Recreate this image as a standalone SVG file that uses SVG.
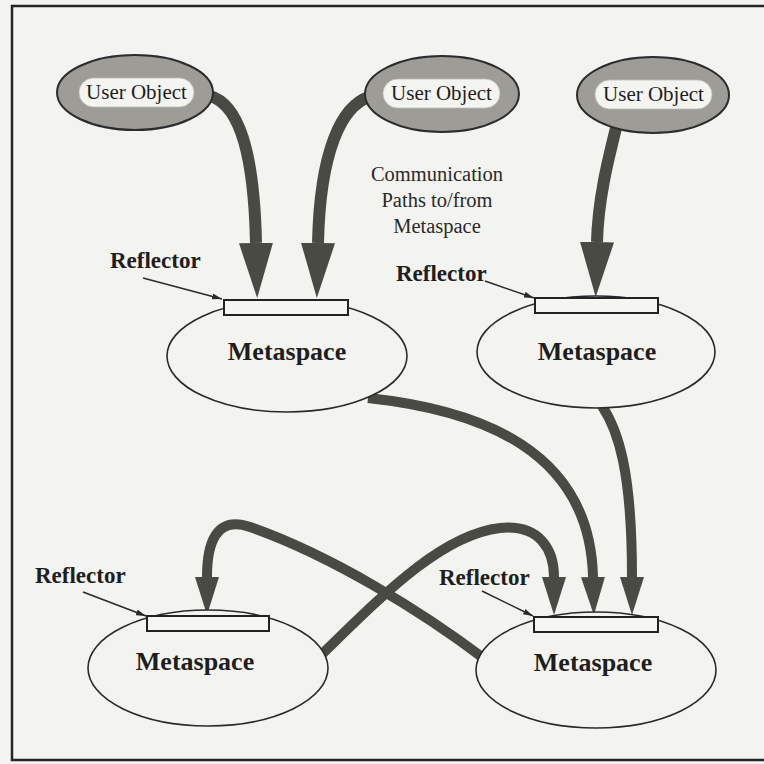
<svg xmlns="http://www.w3.org/2000/svg" width="764" height="764" viewBox="0 0 764 764">
  <defs>
    <style>
      .frame { fill: none; stroke: #252525; stroke-width: 2.5; }
      .uo-body { fill: #9d9c97; stroke: #2c2c2c; stroke-width: 2; }
      .uo-pill { fill: #f4f4f1; stroke: #bdbdb8; stroke-width: 0.8; }
      .uo-text { font-family: "Liberation Serif", "Times New Roman", serif; font-size: 21px; fill: #1e1e1e; text-anchor: middle; }
      .ms-body { fill: #f3f3ef; stroke: #2a2a2a; stroke-width: 1.6; }
      .ms-text { font-family: "Liberation Serif", "Times New Roman", serif; font-size: 26px; font-weight: bold; fill: #1e1e1e; text-anchor: middle; }
      .bar { fill: #f5f5f2; stroke: #222; stroke-width: 2; }
      .refl-text { font-family: "Liberation Serif", "Times New Roman", serif; font-size: 23px; font-weight: bold; fill: #1e1e1e; }
      .pointer { fill: none; stroke: #2a2a2a; stroke-width: 1.5; marker-end: url(#ptr); }
      .note { font-family: "Liberation Serif", "Times New Roman", serif; font-size: 20.5px; fill: #2a2a2a; text-anchor: middle; }
      .path-big { fill: none; stroke: #4a4a44; stroke-width: 12; stroke-linecap: butt; marker-end: url(#headBig); }
      .path-small { fill: none; stroke: #4a4a44; stroke-width: 10; stroke-linecap: butt; marker-end: url(#headSmall); }
    </style>
    <marker id="headBig" markerUnits="userSpaceOnUse" viewBox="0 0 55 34" markerWidth="55" markerHeight="34" refX="0" refY="17" orient="auto">
      <path d="M0,0 L55,17 L0,34 z" fill="#4a4a44"/>
    </marker>
    <marker id="headSmall" markerUnits="userSpaceOnUse" viewBox="0 0 38 24" markerWidth="38" markerHeight="24" refX="0" refY="12" orient="auto">
      <path d="M0,0 L38,12 L0,24 z" fill="#4a4a44"/>
    </marker>
    <marker id="ptr" markerUnits="userSpaceOnUse" viewBox="0 0 10 6" markerWidth="10" markerHeight="6" refX="10" refY="3" orient="auto">
      <path d="M0,0 L10,3 L0,6 z" fill="#2a2a2a"/>
    </marker>
  </defs>

  <rect width="764" height="764" fill="#f3f3ef"/>
  <path class="frame" d="M770 6 H12 V760 H770"/>

  <!-- communication paths -->
  <g id="connectors">
    <path class="path-big" d="M210 96 C238 104 254 150 256 243"/>
    <path class="path-big" d="M369 97 C342 106 320 150 318 243"/>
    <path class="path-big" d="M616 128 C608 160 598 200 597 242"/>
    <path class="path-small" d="M368 398 C480 410 590 450 593 577"/>
    <path class="path-small" d="M602 406 C618 430 632 470 632 577"/>
    <path class="path-small" d="M318 658 C380 598 440 535 500 528 C540 524 554 550 554 577"/>
    <path class="path-small" d="M486 660 C420 610 330 555 250 527 C215 515 207 545 207 577"/>
  </g>

  <text class="note" x="437" y="181">Communication</text>
  <text class="note" x="437" y="207">Paths to/from</text>
  <text class="note" x="437" y="233">Metaspace</text>

  <g id="user-object-1">
    <ellipse class="uo-body" cx="135" cy="92.5" rx="78" ry="37.5"/>
    <rect class="uo-pill" x="79" y="78" width="115" height="29" rx="14.5"/>
    <text class="uo-text" x="136.5" y="99">User Object</text>
  </g>
  <g id="user-object-2">
    <ellipse class="uo-body" cx="442" cy="94" rx="77" ry="38"/>
    <rect class="uo-pill" x="383" y="79" width="117" height="29" rx="14.5"/>
    <text class="uo-text" x="441.5" y="100">User Object</text>
  </g>
  <g id="user-object-3">
    <ellipse class="uo-body" cx="653" cy="95" rx="76" ry="38"/>
    <rect class="uo-pill" x="595" y="80" width="117" height="29" rx="14.5"/>
    <text class="uo-text" x="653.5" y="101">User Object</text>
  </g>

  <g id="metaspace-1">
    <ellipse class="ms-body" cx="287" cy="356" rx="120" ry="56"/>
    <rect class="bar" x="224" y="300" width="124" height="15"/>
    <text class="ms-text" x="287" y="360">Metaspace</text>
    <text class="refl-text" x="110" y="268">Reflector</text>
    <path class="pointer" d="M143 278 L222 299"/>
  </g>
  <g id="metaspace-2">
    <ellipse class="ms-body" cx="596" cy="352" rx="119" ry="56"/>
    <rect class="bar" x="535" y="298" width="123" height="15"/>
    <text class="ms-text" x="597" y="360">Metaspace</text>
    <text class="refl-text" x="396" y="281">Reflector</text>
    <path class="pointer" d="M485 281 L534 298"/>
  </g>
  <g id="metaspace-3">
    <ellipse class="ms-body" cx="208" cy="668" rx="120" ry="58"/>
    <rect class="bar" x="147" y="616" width="122" height="15"/>
    <text class="ms-text" x="195" y="670">Metaspace</text>
    <text class="refl-text" x="35" y="583">Reflector</text>
    <path class="pointer" d="M83 592 L146 616"/>
  </g>
  <g id="metaspace-4">
    <ellipse class="ms-body" cx="596" cy="670" rx="120" ry="58"/>
    <rect class="bar" x="534" y="617" width="124" height="15"/>
    <text class="ms-text" x="593" y="671">Metaspace</text>
    <text class="refl-text" x="439" y="585">Reflector</text>
    <path class="pointer" d="M482 591 L533 616"/>
  </g>
</svg>
